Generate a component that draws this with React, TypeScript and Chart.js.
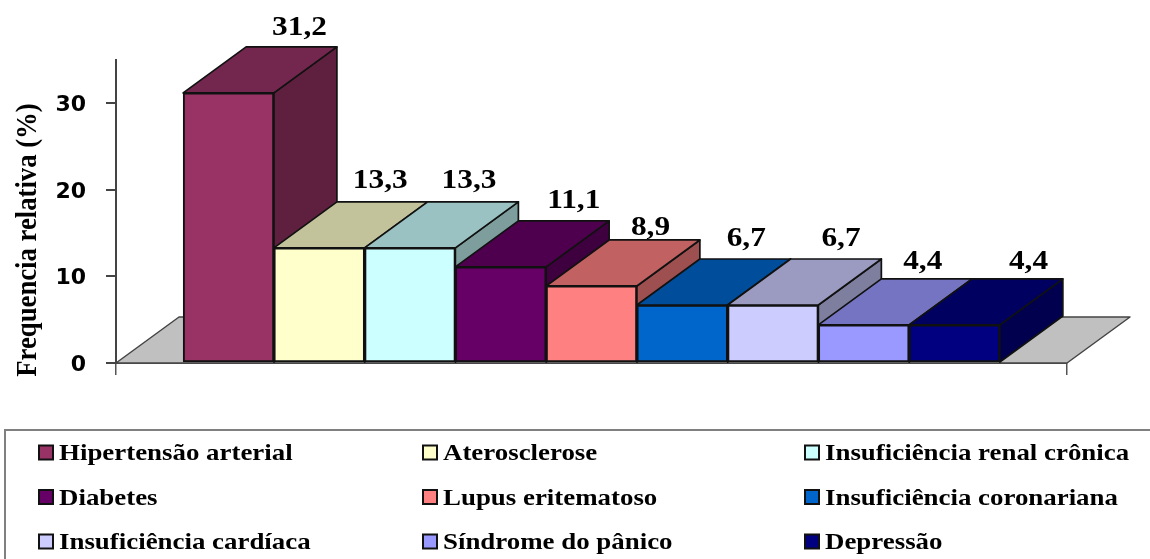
import React, { useEffect, useRef } from "react";
import { Chart, registerables } from "chart.js";

Chart.register(...registerables);

// Diagnoses and their relative frequency (%)
const categories = [
  "Hipertensão arterial",
  "Aterosclerose",
  "Insuficiência renal crônica",
  "Diabetes",
  "Lupus eritematoso",
  "Insuficiência coronariana",
  "Insuficiência cardíaca",
  "Síndrome do pânico",
  "Depressão",
];
const frequencies = [31.2, 13.3, 13.3, 11.1, 8.9, 6.7, 6.7, 4.4, 4.4];
const barColors = [
  "#993366",
  "#FFFFCC",
  "#CCFFFF",
  "#660066",
  "#FF8080",
  "#0066CC",
  "#CCCCFF",
  "#9999FF",
  "#000080",
];
const yTickValues = [0, 10, 20, 30];
const yTitle = "Frequencia relativa (%)";

// Hand-placed shift of each value label relative to the rear edge of its bar
const labelShiftX = [8, -2, -4, 10, -4, 1, 5, -4, 11];
const labelShiftY = [19, 21, 21, 20, 12, 20, 20, 17, 17];

const DEPTH_X = 63;
const DEPTH_Y = 46;
const SERIF = '"Liberation Serif", serif';

const shade = (hex: string, k: number) => {
  const n = parseInt(hex.slice(1), 16);
  const c = [(n >> 16) & 255, (n >> 8) & 255, n & 255].map((v) => Math.round(v * k));
  return `rgb(${c[0]},${c[1]},${c[2]})`;
};

const polygon = (
  ctx: CanvasRenderingContext2D,
  pts: number[][],
  fill: string,
  stroke: string,
  lineWidth: number,
) => {
  ctx.beginPath();
  pts.forEach(([x, y], i) => (i ? ctx.lineTo(x, y) : ctx.moveTo(x, y)));
  ctx.closePath();
  ctx.fillStyle = fill;
  ctx.fill();
  ctx.strokeStyle = stroke;
  ctx.lineWidth = lineWidth;
  ctx.stroke();
};

// Serif lettering, stretched or condensed along its baseline
const wideText = (
  ctx: CanvasRenderingContext2D,
  text: string,
  x: number,
  y: number,
  size: number,
  stretch: number,
  align: CanvasTextAlign,
  rotation = 0,
) => {
  ctx.save();
  ctx.translate(x, y);
  ctx.rotate(rotation);
  ctx.scale(stretch, 1);
  ctx.font = `bold ${size}px ${SERIF}`;
  ctx.fillStyle = "#000";
  ctx.textAlign = align;
  ctx.textBaseline = "middle";
  ctx.fillText(text, 0, 0);
  ctx.restore();
};

// Floor plane plus the top and side faces of each bar; the front faces are the bar elements
const extrusion = {
  id: "extrusion",
  beforeDatasetsDraw(chart: any) {
    const { ctx, chartArea, scales } = chart;
    const base = scales.y.getPixelForValue(0);
    const bars = chart.getDatasetMeta(0).data;
    ctx.save();
    ctx.lineJoin = "round";
    polygon(
      ctx,
      [
        [chartArea.left, base],
        [chartArea.left + DEPTH_X, base - DEPTH_Y],
        [chartArea.right + DEPTH_X, base - DEPTH_Y],
        [chartArea.right, base],
      ],
      "#C0C0C0",
      "#444",
      1.5,
    );
    bars.forEach((bar: any, i: number) => {
      const left = bar.x - bar.width / 2;
      const right = bar.x + bar.width / 2;
      polygon(
        ctx,
        [
          [right, bar.y],
          [right + DEPTH_X, bar.y - DEPTH_Y],
          [right + DEPTH_X, bar.base - DEPTH_Y],
          [right, bar.base],
        ],
        shade(barColors[i], 0.62),
        "#111",
        1.7,
      );
      polygon(
        ctx,
        [
          [left, bar.y],
          [left + DEPTH_X, bar.y - DEPTH_Y],
          [right + DEPTH_X, bar.y - DEPTH_Y],
          [right, bar.y],
        ],
        shade(barColors[i], 0.76),
        "#111",
        1.7,
      );
    });
    ctx.restore();
  },
  afterDraw(chart: any) {
    const { ctx } = chart;
    const bars = chart.getDatasetMeta(0).data;
    bars.forEach((bar: any, i: number) => {
      wideText(
        ctx,
        frequencies[i].toFixed(1).replace(".", ","),
        bar.x + DEPTH_X + labelShiftX[i],
        bar.y - DEPTH_Y - labelShiftY[i],
        27,
        1.16,
        "center",
      );
    });
    wideText(ctx, yTitle, 28, 240, 30, 0.89, "center", -Math.PI / 2);

    // Legend panel, three columns by three rows, running off the page edge
    ctx.save();
    ctx.strokeStyle = "#808080";
    ctx.lineWidth = 2;
    ctx.strokeRect(5, 430, 1160, 140);
    ctx.restore();
    const columns = [39, 423, 805];
    const rows = [452.5, 497, 541.5];
    categories.forEach((name, i) => {
      const x = columns[i % 3];
      const y = rows[Math.floor(i / 3)];
      ctx.save();
      ctx.fillStyle = barColors[i];
      ctx.strokeStyle = "#111";
      ctx.lineWidth = 2;
      ctx.fillRect(x, y - 7, 14, 14);
      ctx.strokeRect(x, y - 7, 14, 14);
      ctx.restore();
      wideText(ctx, name, x + 20, y + 1.5, 24, 1.12, "left");
    });
  },
};

export default function App() {
  const canvas = useRef<HTMLCanvasElement>(null);

  useEffect(() => {
    document.body.style.margin = "0";
    const chart = new Chart(canvas.current!, {
      type: "bar",
      data: {
        datasets: [
          {
            label: yTitle,
            data: frequencies.map((y, x) => ({ x, y })),
            backgroundColor: barColors,
            borderColor: "#111",
            borderWidth: 2,
            borderSkipped: false,
            categoryPercentage: 1,
            barPercentage: 1,
          },
        ],
      },
      options: {
        responsive: false,
        animation: false,
        layout: { padding: { left: 0, right: 83, top: 60, bottom: 0 } },
        plugins: { legend: { display: false }, tooltip: { enabled: false } },
        scales: {
          x: {
            type: "linear",
            offset: false,
            min: -1.24,
            max: 9.24,
            afterFit: (s: any) => {
              s.height = 196;
            },
            afterBuildTicks: (s: any) => {
              s.ticks = [{ value: s.min }, { value: s.max }];
            },
            border: { color: "#555", width: 2 },
            grid: { offset: false, drawOnChartArea: false, color: "#555", lineWidth: 1.5, tickLength: 12 },
            ticks: { callback: () => "", autoSkip: false, maxRotation: 0 },
          },
          y: {
            min: 0,
            max: 35,
            afterFit: (s: any) => {
              s.width = 116;
            },
            afterBuildTicks: (s: any) => {
              s.ticks = yTickValues.map((value) => ({ value }));
            },
            border: { color: "#444", width: 2 },
            grid: { drawOnChartArea: false, color: "#444", lineWidth: 2, tickLength: 10 },
            ticks: {
              padding: 20,
              labelOffset: 2,
              color: "#000",
              font: { family: '"DejaVu Sans"', weight: "bold", size: 22 },
            },
          },
        },
      },
      plugins: [extrusion],
    } as any);
    return () => chart.destroy();
  }, []);

  return (
    <div style={{ position: "absolute", left: 0, top: 0, width: 1150, height: 559, overflow: "hidden", background: "#fff" }}>
      <canvas ref={canvas} width={1150} height={559} style={{ display: "block" }} />
    </div>
  );
}
